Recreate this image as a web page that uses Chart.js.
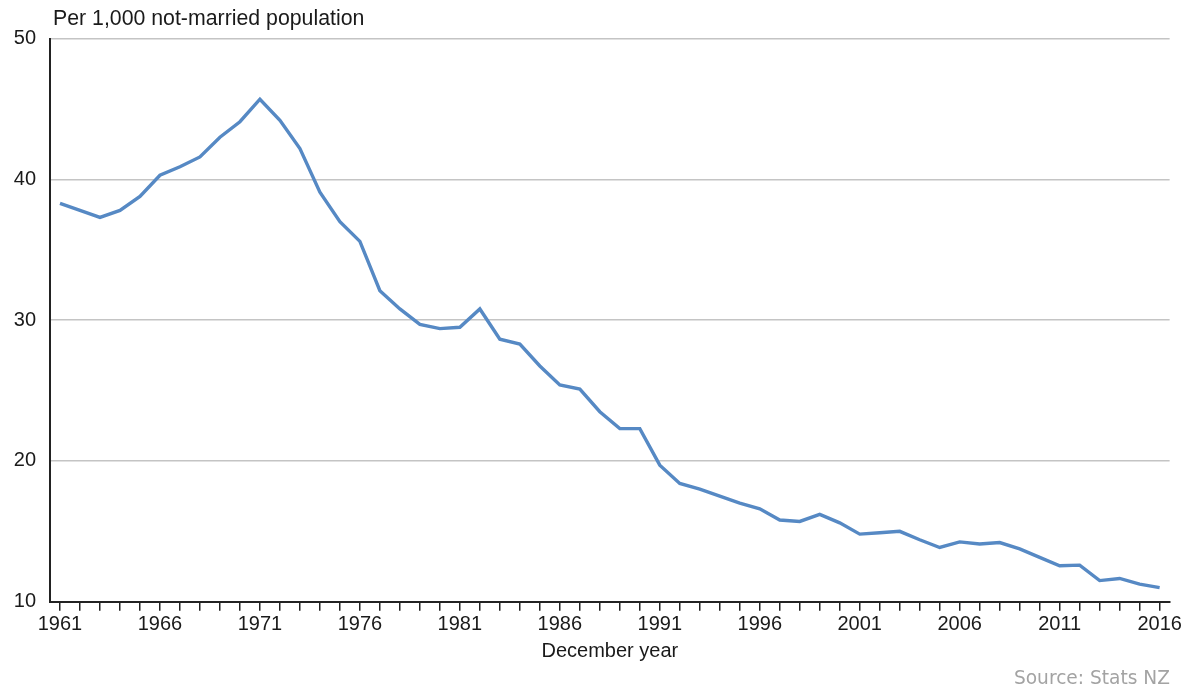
<!DOCTYPE html>
<html>
<head>
<meta charset="utf-8">
<script src="https://cdn.jsdelivr.net/npm/chart.js@4/dist/chart.umd.min.js"></script>
<style>
  body { margin: 0; background: #fff; }
  #wrap { position: relative; width: 1184px; height: 690px; }
  #title { position: absolute; left: 53px; top: 6px; font: 21.3px "Liberation Sans", Arial, sans-serif; color: #1a1a1a; }
  #source { position: absolute; right: 14px; top: 667px; font: 18.6px "DejaVu Sans", Verdana, sans-serif; color: #a3a3a3; }
</style>
</head>
<body>
<div id="wrap">
  <canvas id="c" width="1184" height="690"></canvas>
  <div id="title">Per 1,000 not-married population</div>
  <div id="source">Source: Stats NZ</div>
</div>
<script>
const years = [];
for (let y = 1961; y <= 2016; y++) years.push(String(y));

// divorce rate per 1,000 not-married population
const rates = [
  38.3, 37.8, 37.3, 37.8, 38.8, 40.3, 40.9, 41.6, 43.0, 44.1,
  45.7, 44.2, 42.2, 39.1, 37.0, 35.6, 32.1, 30.8, 29.7, 29.4,
  29.5, 30.8, 28.65, 28.3, 26.75, 25.4, 25.1, 23.5, 22.3, 22.3,
  19.7, 18.4, 18.0, 17.5, 17.0, 16.6, 15.8, 15.7, 16.2, 15.6,
  14.8, 14.9, 15.0, 14.4, 13.85, 14.25, 14.1, 14.2, 13.75, 13.15,
  12.55, 12.6, 11.5, 11.65, 11.25, 11.0
];

const yTicks = [10, 20, 30, 40, 50];

const tickFont = { family: "Liberation Sans", size: 20 };

new Chart(document.getElementById("c"), {
  type: "line",
  data: {
    labels: years,
    datasets: [{
      data: rates,
      borderColor: "#5689c4",
      borderWidth: 3.4,
      pointRadius: 0,
      tension: 0,
      fill: false
    }]
  },
  options: {
    responsive: false,
    animation: false,
    layout: { padding: { top: 38.7, right: 14, left: 0, bottom: 0 } },
    plugins: { legend: { display: false }, tooltip: { enabled: false } },
    scales: {
      x: {
        offset: true,
        grid: { drawOnChartArea: false, drawTicks: true, tickLength: 9, color: "#222", lineWidth: 1.5 },
        border: { color: "#222", width: 2 },
        ticks: {
          autoSkip: false,
          maxRotation: 0,
          padding: 2,
          color: "#1a1a1a",
          font: tickFont,
          callback: function (v, i) {
            return (i % 5 === 0) ? years[i] : "";
          }
        },
        title: {
          display: true,
          text: "December year",
          color: "#1a1a1a",
          font: tickFont,
          padding: { top: 4, bottom: 27 }
        },
        afterFit: function (s) { s.height = 88.3; }
      },
      y: {
        min: yTicks[0],
        max: yTicks[yTicks.length - 1],
        afterBuildTicks: function (s) { s.ticks = yTicks.map(v => ({ value: v })); },
        grid: { color: "#c4c4c4", lineWidth: 1.5, drawTicks: false },
        border: { color: "#222", width: 2 },
        ticks: { padding: 14, color: "#1a1a1a", font: tickFont },
        afterFit: function (s) { s.width = 50; }
      }
    }
  }
});
</script>
</body>
</html>
